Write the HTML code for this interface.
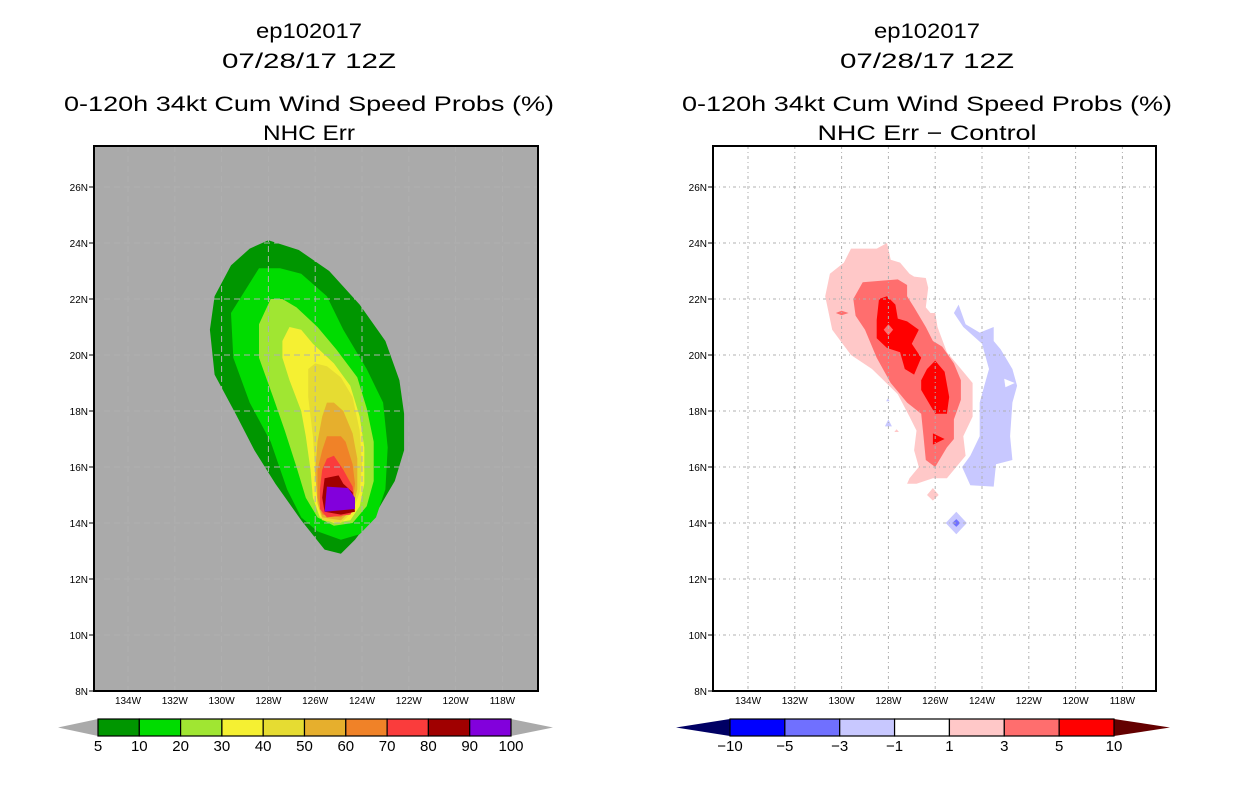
<!DOCTYPE html>
<html><head><meta charset="utf-8">
<style>
html,body{margin:0;padding:0;background:#fff;}
svg{display:block;}
text{font-family:"Liberation Sans",sans-serif;fill:#000;}
</style></head>
<body>
<svg id="chart" width="1236" height="800" viewBox="0 0 1236 800" xmlns="http://www.w3.org/2000/svg">
  <g>
    <text x="309" y="38" font-size="21" text-anchor="middle" textLength="106" lengthAdjust="spacingAndGlyphs">ep102017</text>
    <text x="309" y="68" font-size="21" text-anchor="middle" textLength="174" lengthAdjust="spacingAndGlyphs">07/28/17 12Z</text>
    <text x="309" y="111" font-size="21" text-anchor="middle" textLength="490" lengthAdjust="spacingAndGlyphs">0-120h 34kt Cum Wind Speed Probs (%)</text>
    <text x="309" y="140" font-size="21" text-anchor="middle" textLength="92" lengthAdjust="spacingAndGlyphs">NHC Err</text>
  </g>
  <g>
    <text x="927" y="38" font-size="21" text-anchor="middle" textLength="106" lengthAdjust="spacingAndGlyphs">ep102017</text>
    <text x="927" y="68" font-size="21" text-anchor="middle" textLength="174" lengthAdjust="spacingAndGlyphs">07/28/17 12Z</text>
    <text x="927" y="111" font-size="21" text-anchor="middle" textLength="490" lengthAdjust="spacingAndGlyphs">0-120h 34kt Cum Wind Speed Probs (%)</text>
    <text x="927" y="140" font-size="21" text-anchor="middle" textLength="219" lengthAdjust="spacingAndGlyphs">NHC Err − Control</text>
  </g>
  <g id="leftMap"></g>
  <g id="rightMap"></g>
  <g id="leftBar"></g>
  <g id="rightBar"></g>
</svg>
<script>
// ---- data ----
const lonTicks = [134,132,130,128,126,124,122,120,118];
const latTicks = [8,10,12,14,16,18,20,22,24,26];
const leftLevels = ['5','10','20','30','40','50','60','70','80','90','100'];
const leftColors = ['#009600','#00dc00','#a0e632','#f5f032','#e6dc32','#e6af2d','#f08228','#fa3c3c','#a00000','#8200dc'];
const rightLevels = ['−10','−5','−3','−1','1','3','5','10'];
const rightColors = ['#0000ff','#7070ff','#c8c8ff','#ffffff','#ffc8c8','#ff6e6e','#ff0000'];

// contour polygons [lonW, lat]
const p5 = [[128,24.1],[126.7,23.75],[125.4,23],[124.1,21.8],[123,20.5],[122.4,19.1],[122.2,17.9],[122.2,16.6],[122.6,15.5],[123.3,14.5],[124.3,13.4],[124.9,12.9],[125.6,13.05],[126.6,14.1],[127.7,15.4],[128.6,16.6],[129.4,17.9],[130.3,19.3],[130.5,20.9],[130.3,22.1],[129.6,23.2],[128.8,23.8]];
const p10 = [[128.4,23.1],[129.6,21.5],[129.5,19.9],[128.8,18.3],[127.9,16.9],[127.2,15.2],[126.6,14.2],[125.9,13.7],[124.9,13.4],[124.1,13.6],[123.4,14.2],[123,15.2],[122.9,16.7],[123.1,18.3],[123.8,19.5],[124.8,20.9],[125.5,22.1],[126.6,22.9],[127.5,23.1]];
const p20 = [[127.9,22],[128.4,21.1],[128.4,19.9],[127.8,18.5],[127.3,17.3],[126.8,16],[126.4,14.9],[125.9,14.2],[125.2,13.9],[124.4,14],[123.8,14.6],[123.5,15.5],[123.5,16.9],[123.8,18.1],[124.2,19.2],[125.1,20.2],[125.9,21],[126.8,21.7],[127.4,22]];
const p30 = [[127.1,21],[127.4,20.5],[127.4,19.9],[127.1,19.1],[126.6,18],[126.4,17.1],[126.2,15.9],[126.1,14.9],[125.8,14.2],[125.2,14],[124.5,14.1],[124.1,14.6],[123.9,15.4],[123.9,16.7],[124.1,17.8],[124.5,18.9],[125.2,19.7],[126.1,20.4],[126.6,20.9]];
const p40 = [[126,19.7],[126.3,19.5],[126.3,18.5],[126.1,17.1],[126,15.9],[125.9,14.7],[125.7,14.1],[124.9,14],[124.4,14.4],[124.1,15.1],[124,16.1],[124.1,17.3],[124.4,18.5],[124.9,19.2],[125.5,19.6]];
const p50 = [[125.5,18.3],[125.7,17.8],[125.9,16.9],[126,15.8],[125.9,14.7],[125.7,14.2],[124.9,14.1],[124.4,14.5],[124.2,15.2],[124.2,16.3],[124.4,17.2],[124.8,18],[125.2,18.3]];
const p60 = [[125.5,17.1],[125.7,16.6],[125.9,15.9],[125.9,14.9],[125.7,14.3],[124.9,14.2],[124.4,14.6],[124.3,15.4],[124.4,16.1],[124.7,16.9],[124.9,17.1]];
const p70 = [[125.5,16.3],[125.2,16.4],[124.8,15.9],[124.4,15.3],[124.3,14.6],[124.5,14.3],[125.5,14.2],[125.8,14.5],[125.8,15.2],[125.7,15.9]];
const p80 = [[125.6,15.6],[125,15.7],[124.8,15.4],[124.4,15.1],[124.3,14.4],[124.9,14.3],[125.6,14.4],[125.7,14.9]];
const p90 = [[125.5,15.3],[124.6,15.25],[124.3,14.9],[124.3,14.5],[125.6,14.4]];

const d1 = [[128.06,24],[127.9,23.4],[127.5,23.3],[127.1,22.9],[126.9,22.8],[126.4,22.75],[126.3,22.4],[126.4,21.7],[126.2,21.5],[126,21.5],[125.9,21],[125.5,20.1],[124.8,19.4],[124.4,19],[124.4,17.8],[124.8,17.1],[124.7,16.4],[125.5,15.6],[126.1,15.6],[126.8,15.4],[127.2,15.4],[127.1,15.6],[126.7,16],[126.9,16.6],[126.8,17.3],[127.1,17.8],[127.6,18.6],[128.7,19.5],[129.6,20],[130.4,20.9],[130.7,22.1],[130.5,22.9],[129.9,23.3],[129.6,23.8],[128.5,23.8]];
const d3 = [[129.1,22.6],[127.6,22.7],[127.2,22.5],[127.2,22.1],[126.9,21.7],[126.4,21],[126.1,20.5],[125.7,20.3],[125.2,19.7],[124.9,19.1],[124.9,18.4],[125.2,17.7],[125.2,17],[125.5,16.7],[126,16],[126.4,16.25],[126.5,17.1],[126.6,17.9],[127.2,18.3],[127.9,19],[128.5,19.9],[129,20.9],[129.4,21.4],[129.5,22]];
const d5a = [[128.06,22.1],[127.7,21.8],[127.6,21.3],[127.2,21.2],[126.7,20.9],[127,20.4],[126.6,19.9],[126.9,19.3],[127.3,19.5],[127.5,20.1],[128.06,20.25],[128.5,20.6],[128.5,21.25],[128.4,22]];
const d5b = [[126,19.8],[125.6,19.4],[125.4,18.5],[125.5,17.9],[126,17.9],[126.6,18.75],[126.6,19.1],[126.35,19.5]];
const d5c = [[126.1,17.2],[125.6,17],[126.1,16.8]];
const d3hole = [[128,21.1],[127.8,20.9],[128,20.7],[128.2,20.9]];
const d3spot = [[130.25,21.5],[130,21.58],[129.7,21.5],[130,21.42]];
const d1spot = [[126.1,15.25],[125.85,15],[126.1,14.8],[126.35,15]];
const d1tiny = [[127.65,17.35],[127.55,17.25],[127.75,17.25]];
const dm1 = [[125,21.8],[124.7,21.1],[124.1,20.8],[123.5,21],[123.5,20.5],[123.2,20.2],[122.7,19.5],[122.5,18.9],[122.7,18.3],[122.8,17.1],[122.7,16.25],[123.4,16.1],[123.5,15.3],[124.5,15.35],[124.85,16],[124.5,16.4],[124.1,17.1],[124.1,18.3],[123.9,18.9],[123.7,19.5],[124,20.4],[124.8,21],[125.2,21.5]];
const dm1hole = [[123.05,19.15],[122.6,19],[123,18.85]];
const dm1spot = [[125.1,14.4],[124.65,14],[125.1,13.6],[125.55,14]];
const dm1tinyA = [[128.02,18.45],[127.95,18.35],[128.1,18.35]];
const dm1tinyB = [[128,17.7],[127.85,17.45],[128.15,17.45]];
const dm3spot = [[125.1,14.14],[124.93,14],[125.1,13.86],[125.27,14]];

// ---- helpers ----
const NS = 'http://www.w3.org/2000/svg';
const svg = document.getElementById('chart');
const Y0 = 691, DEGY = 28, DEGX = 23.4;
function yScale(lat){ return Y0 - (lat - 8) * DEGY; }
function xScaleFor(off){ return lonW => off + 128 + (134 - lonW) * DEGX; }
function mk(tag, parent){ const e = document.createElementNS(NS, tag); parent.appendChild(e); return e; }
function poly(parent, pts, xs, color){
  const p = mk('polygon', parent);
  p.setAttribute('points', pts.map(q => xs(q[0]).toFixed(1) + ',' + yScale(q[1]).toFixed(1)).join(' '));
  p.setAttribute('fill', color);
  return p;
}

function drawFrame(g, off, bg, dash, left, right){
  const xs = xScaleFor(off);
  const r = mk('rect', g);
  
  
  r.setAttribute('x', left); r.setAttribute('y', 146);
  r.setAttribute('width', right-left); r.setAttribute('height', 545);
  r.setAttribute('fill', bg);
  return xs;
}
function drawGridAxes(g, xs, left, right, dash){
  const grid = mk('g', g);
  
  
  lonTicks.forEach(l => {
    const ln = mk('line', grid);
    ln.setAttribute('x1', xs(l)); ln.setAttribute('x2', xs(l));
    ln.setAttribute('y1', 146); ln.setAttribute('y2', 691);
    ln.setAttribute('stroke', '#b0b0b0'); ln.setAttribute('stroke-dasharray', dash);
  });
  latTicks.slice(1).forEach(l => {
    const ln = mk('line', grid);
    ln.setAttribute('x1', left); ln.setAttribute('x2', right);
    ln.setAttribute('y1', yScale(l)); ln.setAttribute('y2', yScale(l));
    ln.setAttribute('stroke', '#b0b0b0'); ln.setAttribute('stroke-dasharray', dash);
  });
  const ax = mk('g', g);
  
  
  lonTicks.forEach(l => {
    const t = mk('text', ax);
    
    
    t.setAttribute('x', xs(l)); t.setAttribute('y', 704);
    t.setAttribute('font-size', '10'); t.setAttribute('text-anchor', 'middle');
    t.textContent = l + 'W';
  });
  latTicks.forEach(l => {
    const t = mk('text', ax);
    
    
    t.setAttribute('x', left - 6); t.setAttribute('y', yScale(l) + 4);
    t.setAttribute('font-size', '10'); t.setAttribute('text-anchor', 'end');
    t.textContent = l + 'N';
    const tk = mk('line', ax);
    tk.setAttribute('x1', left - 5); tk.setAttribute('x2', left);
    tk.setAttribute('y1', yScale(l)); tk.setAttribute('y2', yScale(l));
    tk.setAttribute('stroke', '#000');
  });
  const b = mk('rect', g);
  
  
  b.setAttribute('x', left); b.setAttribute('y', 146);
  b.setAttribute('width', right-left); b.setAttribute('height', 545);
  b.setAttribute('fill', 'none'); b.setAttribute('stroke', '#000'); b.setAttribute('stroke-width', '2');
}

// ---- left map ----
const gL = document.getElementById('leftMap');
const xsL = drawFrame(gL, 0, '#aaaaaa', '', 94, 538);
const cL = mk('g', gL);


[p5,p10,p20,p30,p40,p50,p60,p70,p80,p90].forEach((pts, i) => {
  const p = poly(cL, pts, xsL, leftColors[i]);
  
  
});
drawGridAxes(gL, xsL, 94, 538, '6 4');

// ---- right map ----
const gR = document.getElementById('rightMap');
const xsR = drawFrame(gR, 620, '#ffffff', '', 713, 1156);
const cR = mk('g', gR);


const rightShapes = [
  [d1, rightColors[4], 'contour-plus1'], [d3, rightColors[5], 'contour-plus3'],
  [d5a, rightColors[6], 'contour-plus5-north'], [d5b, rightColors[6], 'contour-plus5-mid'],
  [d5c, rightColors[6], 'contour-plus5-south'], [d3hole, rightColors[5], 'contour-plus3-spot'],
  [d3spot, rightColors[5], 'contour-plus3-west'], [d1spot, rightColors[4], 'contour-plus1-spot'],
  [d1tiny, rightColors[4], 'contour-plus1-tiny'], [dm1, rightColors[2], 'contour-minus1'],
  [dm1hole, '#ffffff', 'contour-minus1-hole'], [dm1spot, rightColors[2], 'contour-minus1-spot'],
  [dm1tinyA, rightColors[2], 'contour-minus1-tiny-a'], [dm1tinyB, rightColors[2], 'contour-minus1-tiny-b'],
  [dm3spot, rightColors[1], 'contour-minus3-spot']
];
rightShapes.forEach(s => {
  const p = poly(cR, s[0], xsR, s[1]);
  
  
});
drawGridAxes(gR, xsR, 713, 1156, '3 3 1 3');

// ---- colorbars ----
function colorbar(g, colors, labels, x0, x1, leftTip, rightTip, leftCap, rightCap){
  const w = (x1 - x0) / colors.length, yT = 719, yB = 736, yM = 727.5;
  const lt = mk('polygon', g);
  
  
  lt.setAttribute('points', `${x0},${yT} ${leftTip},${yM} ${x0},${yB}`);
  lt.setAttribute('fill', leftCap);
  const rt = mk('polygon', g);
  
  
  rt.setAttribute('points', `${x1},${yT} ${rightTip},${yM} ${x1},${yB}`);
  rt.setAttribute('fill', rightCap);
  colors.forEach((c, i) => {
    const r = mk('rect', g);
    
    
    r.setAttribute('x', x0 + i*w); r.setAttribute('y', yT);
    r.setAttribute('width', w); r.setAttribute('height', yB - yT);
    r.setAttribute('fill', c); r.setAttribute('stroke', '#000'); r.setAttribute('stroke-width', '1.2');
  });
  labels.forEach((l, i) => {
    const t = mk('text', g);
    
    
    t.setAttribute('x', x0 + i*w); t.setAttribute('y', 751);
    t.setAttribute('font-size', '15'); t.setAttribute('text-anchor', 'middle');
    t.textContent = l;
  });
}
colorbar(document.getElementById('leftBar'), leftColors, leftLevels, 98, 511, 58, 553, '#aaaaaa', '#aaaaaa');
colorbar(document.getElementById('rightBar'), rightColors, rightLevels, 730, 1114, 676, 1170, '#000064', '#640000');
</script>
</body></html>
